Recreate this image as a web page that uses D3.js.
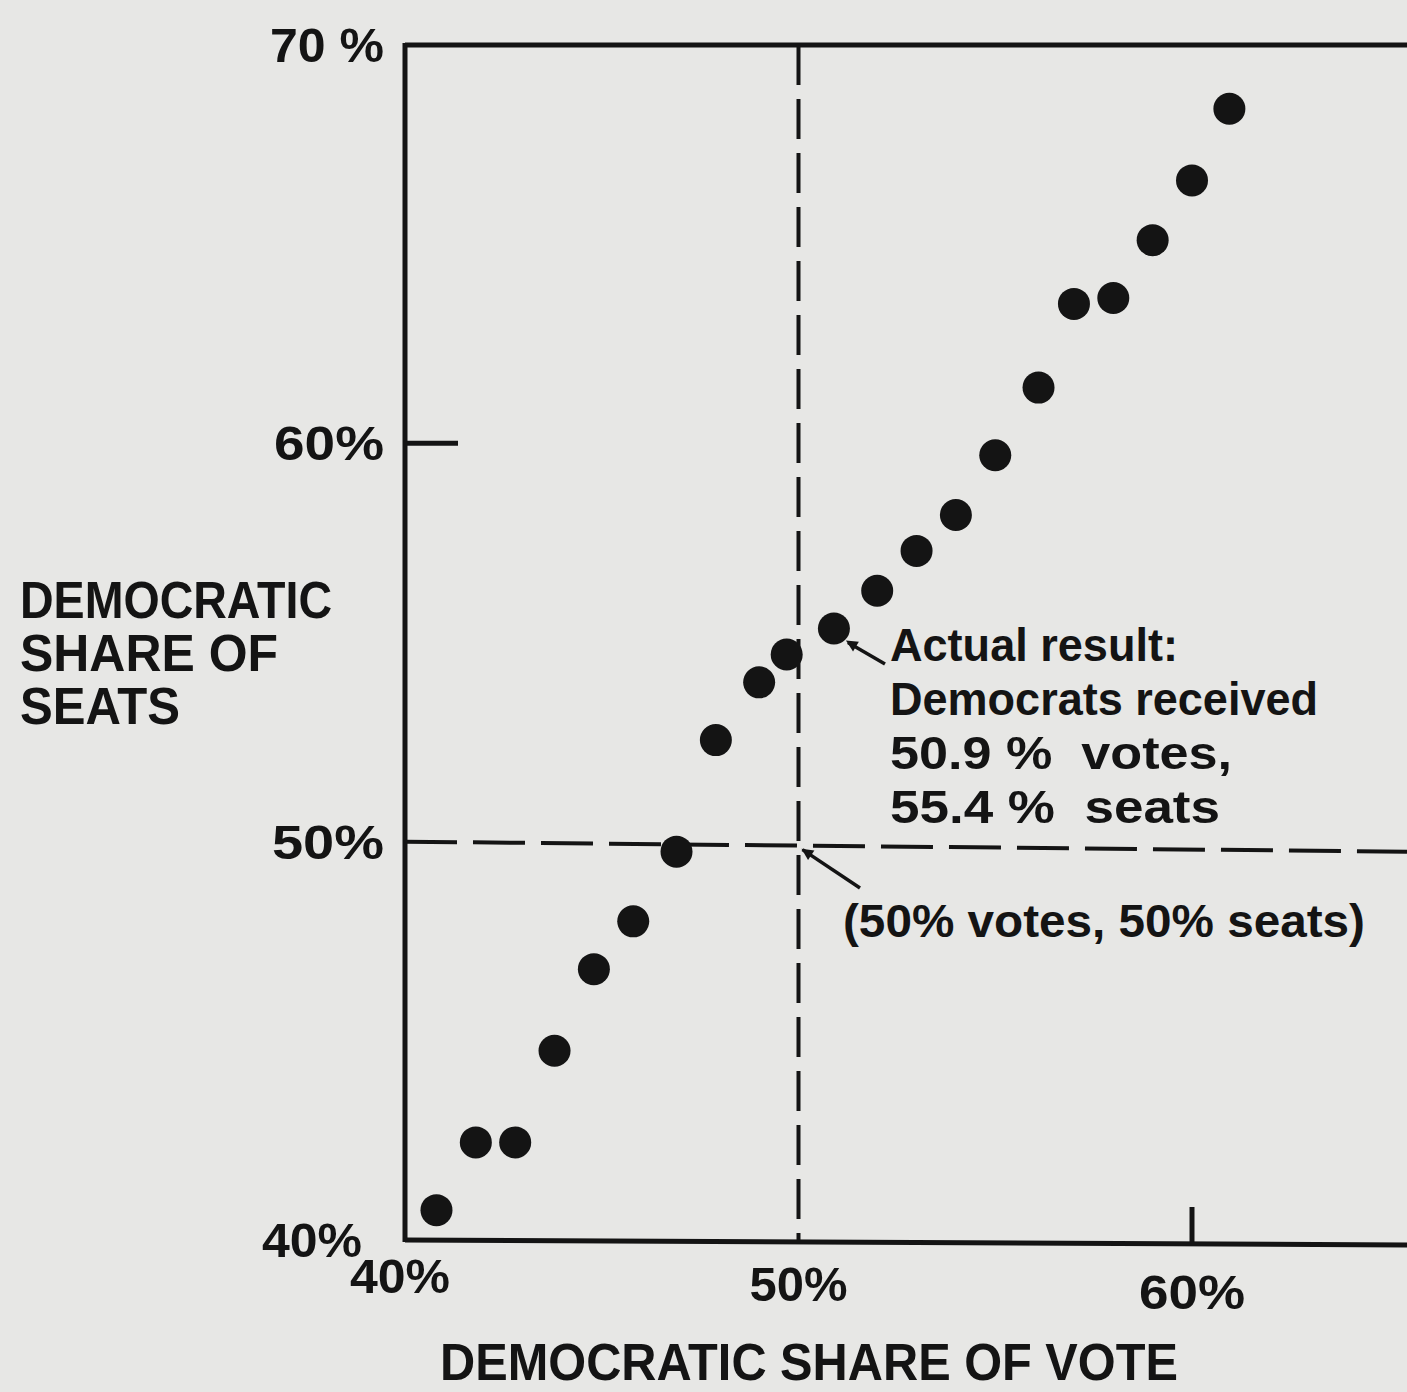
<!DOCTYPE html>
<html>
<head>
<meta charset="utf-8">
<script src="https://cdn.jsdelivr.net/npm/d3@7"></script>
<style>
  html, body { margin: 0; padding: 0; background: #e7e7e5; }
  svg { display: block; }
  text { font-family: "Liberation Sans", Arial, sans-serif; fill: #141414; white-space: pre; }
</style>
</head>
<body>
<div id="chart"></div>
<script>
// Democratic share of vote (%) and seats (%) — one dot per hypothetical swing
const votes = [40.8, 41.8, 42.8, 43.8, 44.8, 45.8, 46.9, 47.9, 49.0, 49.7, 50.9,
               52.0, 53.0, 54.0, 55.0, 56.1, 57.0, 58.0, 59.0, 60.0, 60.95];
const seats = [40.75, 42.45, 42.45, 44.75, 46.8, 48.0, 49.75, 52.55, 54.0, 54.7, 55.35,
               56.3, 57.3, 58.2, 59.7, 61.4, 63.5, 63.65, 65.1, 66.6, 68.4];
const xTicks = [40, 50, 60];
const yTicks = [40, 50, 60, 70];
const xTickLabels = ["40%", "50%", "60%"];
const yTickLabels = ["40%", "50%", "60%", "70 %"];
const yTitle = ["DEMOCRATIC", "SHARE OF", "SEATS"];
const xTitle = "DEMOCRATIC SHARE OF VOTE";
const actualNote = ["Actual result:", "Democrats received", "50.9 %  votes,", "55.4 %  seats"];
const evenNote = "(50% votes, 50% seats)";

const width = 1407, height = 1392;
const svg = d3.select('#chart').append('svg')
    .attr('width', width)
    .attr('height', height);

const x = d3.scaleLinear().domain([40, 66]).range([405, 405 + 26 * 39.35]);
const y = d3.scaleLinear().domain([40, 70]).range([1240, 45]);

const ink = '#141414';

// frame: left axis, top border, bottom axis
svg.append('line')
    .attr('x1', x(40)).attr('x2', x(40))
    .attr('y1', y(70) - 2).attr('y2', y(40) + 2)
    .attr('stroke', ink).attr('stroke-width', 5);
svg.append('line')
    .attr('x1', x(40)).attr('x2', width)
    .attr('y1', y(70)).attr('y2', y(70))
    .attr('stroke', ink).attr('stroke-width', 5);
svg.append('line')
    .attr('x1', x(40)).attr('x2', width)
    .attr('y1', y(40)).attr('y2', y(40) + 5)
    .attr('stroke', ink).attr('stroke-width', 5);

// inner ticks at 60%
svg.append('line')
    .attr('x1', x(40)).attr('x2', x(40) + 53)
    .attr('y1', y(60)).attr('y2', y(60))
    .attr('stroke', ink).attr('stroke-width', 5);
svg.append('line')
    .attr('x1', x(60)).attr('x2', x(60))
    .attr('y1', y(40) + 3).attr('y2', y(40) - 33)
    .attr('stroke', ink).attr('stroke-width', 5);

// 50% reference lines, dashed
svg.append('line')
    .attr('x1', x(50)).attr('x2', x(50))
    .attr('y1', y(70)).attr('y2', y(40))
    .attr('stroke', ink).attr('stroke-width', 4)
    .attr('stroke-dasharray', '40 14');
svg.append('line')
    .attr('x1', x(40)).attr('x2', width)
    .attr('y1', y(50)).attr('y2', y(50) + 10)
    .attr('stroke', ink).attr('stroke-width', 4)
    .attr('stroke-dasharray', '52 16');

// tick labels
const yLabW = [100, 112, 110, 114];
svg.selectAll('.ylab')
    .data(yTicks)
    .join('text')
    .attr('class', 'ylab')
    .attr('x', (d, i) => i === 0 ? 362 : 384)
    .attr('y', d => y(d) + 17)
    .attr('text-anchor', 'end')
    .attr('font-size', 48)
    .attr('font-weight', 'bold')
    .attr('textLength', (d, i) => yLabW[i])
    .attr('lengthAdjust', 'spacingAndGlyphs')
    .text((d, i) => yTickLabels[i]);

const xLabW = [100, 98, 106];
svg.selectAll('.xlab')
    .data(xTicks)
    .join('text')
    .attr('class', 'xlab')
    .attr('x', d => x(d) + (d === 40 ? -5 : 0))
    .attr('y', (d, i) => y(40) + 53 + i * 8)
    .attr('text-anchor', 'middle')
    .attr('font-size', 48)
    .attr('font-weight', 'bold')
    .attr('textLength', (d, i) => xLabW[i])
    .attr('lengthAdjust', 'spacingAndGlyphs')
    .text((d, i) => xTickLabels[i]);

// axis titles
svg.append('g').selectAll('text')
    .data(yTitle)
    .join('text')
    .attr('x', 20)
    .attr('y', (d, i) => 618 + i * 53)
    .attr('font-size', 52)
    .attr('font-weight', 'bold')
    .attr('textLength', (d, i) => [312, 258, 160][i])
    .attr('lengthAdjust', 'spacingAndGlyphs')
    .text(d => d);

svg.append('text')
    .attr('x', 440)
    .attr('y', 1380)
    .attr('font-size', 52)
    .attr('font-weight', 'bold')
    .attr('textLength', 738)
    .attr('lengthAdjust', 'spacingAndGlyphs')
    .text(xTitle);

// dots
svg.append('g').selectAll('circle')
    .data(votes)
    .join('circle')
    .attr('cx', d => x(d))
    .attr('cy', (d, i) => y(seats[i]))
    .attr('r', 16)
    .attr('fill', ink);

// annotations
const arrowHead = (x1, y1, x2, y2) => {
    const a = Math.atan2(y1 - y2, x1 - x2);
    const l = 13, s = 0.45;
    return `M${x2},${y2}L${x2 + l * Math.cos(a - s)},${y2 + l * Math.sin(a - s)}L${x2 + l * Math.cos(a + s)},${y2 + l * Math.sin(a + s)}Z`;
};

const ax = x(50.9), ay = y(55.35);
svg.append('line')
    .attr('x1', 885).attr('y1', 664)
    .attr('x2', ax + 14).attr('y2', ay + 14)
    .attr('stroke', ink).attr('stroke-width', 3.5);
svg.append('path').attr('d', arrowHead(885, 664, ax + 12, ay + 12)).attr('fill', ink);

svg.append('g').selectAll('text')
    .data(actualNote)
    .join('text')
    .attr('x', 890)
    .attr('y', (d, i) => 661 + i * 54)
    .attr('font-size', 47)
    .attr('font-weight', 'bold')
    .attr('textLength', (d, i) => [288, 428, 342, 330][i])
    .attr('lengthAdjust', 'spacingAndGlyphs')
    .text(d => d);

const ex = x(50), ey = y(50) + 4;
svg.append('line')
    .attr('x1', 860).attr('y1', 888)
    .attr('x2', ex + 4).attr('y2', ey + 4)
    .attr('stroke', ink).attr('stroke-width', 3.5);
svg.append('path').attr('d', arrowHead(860, 888, ex + 3, ey + 3)).attr('fill', ink);

svg.append('text')
    .attr('x', 843)
    .attr('y', 937)
    .attr('font-size', 47)
    .attr('font-weight', 'bold')
    .attr('textLength', 522)
    .attr('lengthAdjust', 'spacingAndGlyphs')
    .text(evenNote);
</script>
</body>
</html>
